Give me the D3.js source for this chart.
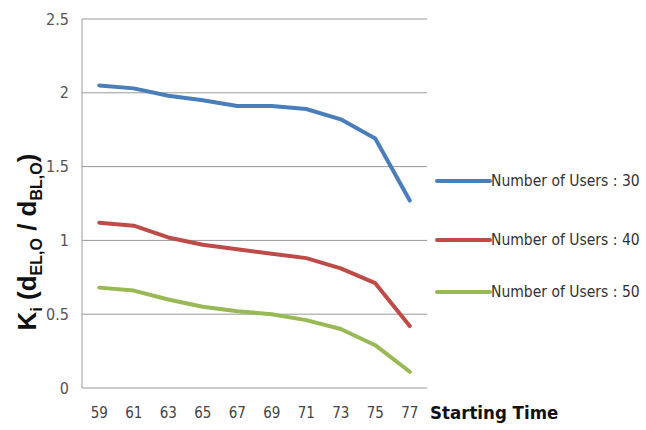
<!DOCTYPE html>
<html><head><meta charset="utf-8">
<script src="https://cdn.jsdelivr.net/npm/d3@7"></script>
<style>body{margin:0;background:#fff}svg{display:block}</style>
</head><body>
<script>
const categories = ["59","61","63","65","67","69","71","73","75","77"];
const users30 = [2.05,2.03,1.98,1.95,1.91,1.91,1.89,1.82,1.69,1.27];
const users40 = [1.12,1.10,1.02,0.97,0.94,0.91,0.88,0.81,0.71,0.42];
const users50 = [0.68,0.66,0.60,0.55,0.52,0.50,0.46,0.40,0.29,0.11];
const seriesNames = ["Number of Users : 30","Number of Users : 40","Number of Users : 50"];
const yTicks = [0,0.5,1,1.5,2,2.5];

const series = [
  {name: seriesNames[0], values: users30, color: "#4A7EBB"},
  {name: seriesNames[1], values: users40, color: "#BE4B48"},
  {name: seriesNames[2], values: users50, color: "#98B954"}
];

const W = 646, H = 430;
const m = {left: 82, right: 427, top: 19, bottom: 388};
const font = "'Liberation Sans Narrow','DejaVu Sans Condensed','Liberation Sans',sans-serif";

const svg = d3.select("body").append("svg").attr("width", W).attr("height", H)
  .style("font-family", font);

const x = d3.scalePoint().domain(categories).range([m.left, m.right]).padding(0.5);
const y = d3.scaleLinear().domain([0, 2.5]).range([m.bottom, m.top]);

svg.append("g").selectAll("line").data(yTicks).join("line")
  .attr("x1", m.left).attr("x2", m.right)
  .attr("y1", d => y(d)).attr("y2", d => y(d))
  .attr("stroke", "#999").attr("stroke-width", 1);

svg.append("line").attr("x1", m.left).attr("x2", m.left)
  .attr("y1", y(2.5)).attr("y2", y(0)).attr("stroke", "#999");

svg.append("g").selectAll("text").data(yTicks).join("text")
  .attr("x", 69).attr("y", d => y(d)).attr("dy", "0.35em")
  .attr("text-anchor", "end").attr("font-size", 16).attr("fill", "#555")
  .text(d => d);

svg.append("g").selectAll("text").data(categories).join("text")
  .attr("x", d => x(d)).attr("y", 413).attr("dy", "0.35em")
  .attr("text-anchor", "middle").attr("font-size", 15).attr("fill", "#444")
  .text(d => d);

svg.append("text").attr("x", 430).attr("y", 413).attr("dy", "0.35em")
  .attr("font-size", 18.5).attr("font-weight", "bold").attr("fill", "#111")
  .text("Starting Time");

const yt = svg.append("text").attr("transform", "translate(36,242) rotate(-90)")
  .attr("text-anchor", "middle").attr("font-size", 26).attr("font-weight", "bold")
  .attr("fill", "#111").style("font-family", "'Liberation Sans','DejaVu Sans',sans-serif");
yt.append("tspan").text("K");
yt.append("tspan").attr("font-size", 16).attr("dy", 6).text("i");
yt.append("tspan").attr("dy", -6).text(" (d");
yt.append("tspan").attr("font-size", 16).attr("dy", 6).text("EL,O");
yt.append("tspan").attr("dy", -6).text(" / d");
yt.append("tspan").attr("font-size", 16).attr("dy", 6).text("BL,O");
yt.append("tspan").attr("dy", -6).text(")");

const line = d3.line().x((d, i) => x(categories[i])).y(d => y(d));
svg.append("g").selectAll("path").data(series).join("path")
  .attr("d", d => line(d.values)).attr("fill", "none")
  .attr("stroke", d => d.color).attr("stroke-width", 4)
  .attr("stroke-linejoin", "round").attr("stroke-linecap", "round");

const legY = [181, 240, 292];
const lg = svg.append("g").selectAll("g").data(series).join("g")
  .attr("transform", (d, i) => `translate(437,${legY[i]})`);
lg.append("line").attr("x1", 0).attr("x2", 53).attr("stroke", d => d.color)
  .attr("stroke-width", 4).attr("stroke-linecap", "round");
lg.append("text").attr("x", 54).attr("dy", "0.35em").attr("font-size", 15.5)
  .attr("fill", "#333").text(d => d.name);
</script>
</body></html>
